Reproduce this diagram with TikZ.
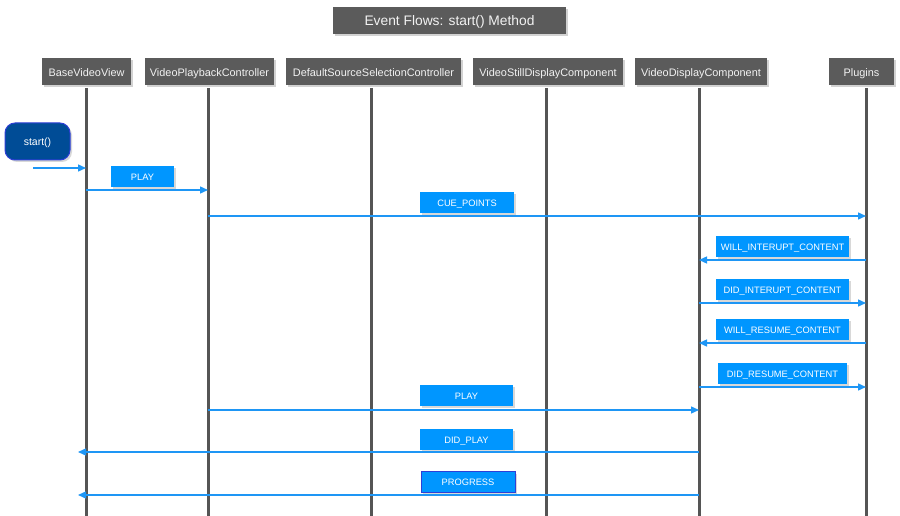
\documentclass[tikz,border=0pt]{standalone}
\usepackage{fontspec}
\setmainfont{Liberation Sans}
\usetikzlibrary{arrows.meta,shadows}
\definecolor{hdrgray}{HTML}{5B5B5B}
\definecolor{lifegray}{HTML}{555555}
\definecolor{msgblue}{HTML}{1E96F5}
\definecolor{lblblue}{HTML}{0096FF}
\definecolor{startblue}{HTML}{004C96}
\definecolor{startborder}{HTML}{2E3FD6}
\definecolor{hdrtext}{HTML}{F2F2F2}
\tikzset{
  hdrbox/.style={fill=hdrgray, text=hdrtext, font=\fontsize{10.9}{13}\selectfont,
    minimum height=27pt, inner sep=0pt, anchor=center, text height=10.4pt, text depth=0pt,
    drop shadow={opacity=0.35, shadow xshift=2pt, shadow yshift=-2pt}},
  titlebox/.style={hdrbox, font=\fontsize{13.8}{16}\selectfont, text height=11pt},
  lifeline/.style={draw=lifegray, line width=3pt},
  lblbox/.style={fill=lblblue, text=white, font=\fontsize{9.3}{11}\selectfont,
    minimum height=21pt, inner sep=0pt, text height=7pt, text depth=0pt,
    drop shadow={opacity=0.3, shadow xshift=2pt, shadow yshift=-2pt}},
  msg/.style={draw=msgblue, line width=1.4pt, -{Triangle[length=8pt,width=7pt]}},
}
\begin{document}
\begin{tikzpicture}[x=1pt,y=-1pt]
\useasboundingbox (0,0) rectangle (900,516);
\fill[white] (0,0) rectangle (900,516);

% title
\node[titlebox, minimum width=233pt] (title) at (449.5,20.5) {Event Flows: start() Method};

% headers
\node[hdrbox, minimum width=89pt] (hbvv) at (86.5,71.5) {BaseVideoView};
\node[hdrbox, minimum width=129pt] (hvpc) at (209.5,71.5) {VideoPlaybackController};
\node[hdrbox, minimum width=175pt] (hdss) at (373.5,71.5) {DefaultSourceSelectionController};
\node[hdrbox, minimum width=150pt] (hvsd) at (548,71.5) {VideoStillDisplayComponent};
\node[hdrbox, minimum width=132pt] (hvdc) at (701,71.5) {VideoDisplayComponent};
\node[hdrbox, minimum width=65pt] (hplg) at (861.5,71.5) {Plugins};

% lifelines
\coordinate (Tbvv) at (86,88);  \coordinate (Bbvv) at (86,516);
\coordinate (Tvpc) at (208,88); \coordinate (Bvpc) at (208,516);
\coordinate (Tdss) at (371,88); \coordinate (Bdss) at (371,516);
\coordinate (Tvsd) at (546,88); \coordinate (Bvsd) at (546,516);
\coordinate (Tvdc) at (699,88); \coordinate (Bvdc) at (699,516);
\coordinate (Tplg) at (866,88); \coordinate (Bplg) at (866,516);
\foreach \n in {bvv,vpc,dss,vsd,vdc,plg} \draw[lifeline] (T\n) -- (B\n);

% start
\node[draw=startborder, line width=1pt, fill=startblue, text=white, rounded corners=10pt,
  minimum width=65pt, minimum height=37pt, inner sep=0pt, font=\fontsize{10.5}{12}\selectfont,
  text height=8pt, text depth=0pt,
  drop shadow={opacity=0.3, shadow xshift=2pt, shadow yshift=-2pt}] (start) at (37.5,141.5) {start()};
\coordinate (s0) at (33,168);
\coordinate (m0) at (0,168);
\draw[msg] (s0) -- (Tbvv |- m0);

% message rows
\coordinate (m1) at (0,190);
\coordinate (m2) at (0,216);
\coordinate (m3) at (0,260);
\coordinate (m4) at (0,303);
\coordinate (m5) at (0,343);
\coordinate (m6) at (0,387);
\coordinate (m7) at (0,410);
\coordinate (m8) at (0,452);
\coordinate (m9) at (0,495);

% labels
\node[lblbox, minimum width=63pt] (l1) at (142.5,176.5) {PLAY};
\node[lblbox, minimum width=94pt] (l2) at (467,202.5) {CUE\_POINTS};
\node[lblbox, minimum width=133pt] (l3) at (782.5,246.5) {WILL\_INTERUPT\_CONTENT};
\node[lblbox, minimum width=133pt] (l4) at (782.5,289.5) {DID\_INTERUPT\_CONTENT};
\node[lblbox, minimum width=133pt] (l5) at (782.5,329.5) {WILL\_RESUME\_CONTENT};
\node[lblbox, minimum width=129pt] (l6) at (782.5,373.5) {DID\_RESUME\_CONTENT};
\node[lblbox, minimum width=93pt] (l7) at (466.5,395.5) {PLAY};
\node[lblbox, minimum width=93pt] (l8) at (466.5,439.5) {DID\_PLAY};
\node[lblbox, minimum width=94pt, draw=startborder, line width=0.8pt] (l9) at (468,482) {PROGRESS};

% arrows
\draw[msg] (Tbvv |- m1) -- (Tvpc |- m1);
\draw[msg] (Tvpc |- m2) -- (Tplg |- m2);
\draw[msg] (Tplg |- m3) -- (Tvdc |- m3);
\draw[msg] (Tvdc |- m4) -- (Tplg |- m4);
\draw[msg] (Tplg |- m5) -- (Tvdc |- m5);
\draw[msg] (Tvdc |- m6) -- (Tplg |- m6);
\draw[msg] (Tvpc |- m7) -- (Tvdc |- m7);
\draw[msg] (Tvdc |- m8) -- ([xshift=-8pt]Tbvv |- m8);
\draw[msg] (Tvdc |- m9) -- ([xshift=-8pt]Tbvv |- m9);
\end{tikzpicture}
\end{document}
